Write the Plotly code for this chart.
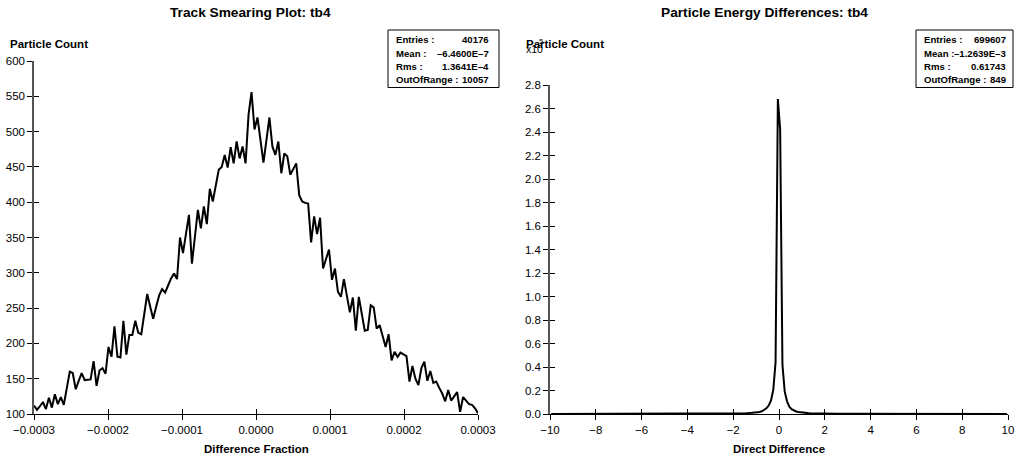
import numpy as np
import plotly.graph_objects as go

W, H = 1016, 460
FONT = "Liberation Sans, Arial, Helvetica, sans-serif"

# ---------------- data: Track Smearing (150 bins over [-0.0003, 0.0003]) -------------
smear_range = (-0.0003, 0.0003)
smear_nbins = 150
smear_counts = [
    112, 106, 111, 117, 107, 123, 109, 128, 114, 124,
    113, 137, 160, 158, 135, 147, 158, 148, 148, 149,
    175, 140, 162, 165, 157, 195, 181, 224, 181, 180,
    232, 184, 212, 212, 232, 215, 213, 241, 270, 252,
    235, 252, 268, 277, 272, 282, 292, 299, 291, 350,
    328, 355, 382, 313, 351, 389, 363, 394, 369, 419,
    401, 423, 446, 450, 467, 449, 478, 455, 486, 462,
    479, 455, 524, 556, 503, 520, 488, 456, 488, 520,
    479, 467, 486, 441, 469, 465, 439, 447, 455, 410,
    401, 399, 398, 343, 380, 355, 378, 306, 320, 333,
    290, 306, 273, 266, 291, 267, 244, 265, 218, 266,
    242, 218, 219, 254, 251, 221, 226, 210, 195, 213,
    176, 188, 181, 187, 185, 182, 146, 168, 150, 141,
    165, 174, 147, 161, 144, 146, 137, 129, 118, 134,
    119, 125, 131, 103, 124, 119, 114, 113, 108, 101,
]
smear_xticks = [-0.0003, -0.0002, -0.0001, 0.0, 0.0001, 0.0002, 0.0003]
smear_yticks = [100, 150, 200, 250, 300, 350, 400, 450, 500, 550, 600]
smear_stats = [("Entries :", "40176"), ("Mean :", "–6.4600E–7"),
               ("Rms :", "1.3641E–4"), ("OutOfRange :", "10057")]

# ---------------- data: Particle Energy Differences (200 bins over [-10, 10]) -------
energy_range = (-10.0, 10.0)
energy_nbins = 200
energy_tail_left = [
    37, 36, 39, 38, 40, 39, 42, 41, 43, 44,
    45, 44, 47, 48, 47, 50, 51, 50, 53, 55,
    56, 55, 58, 60, 59, 62, 64, 63, 67, 69,
    70, 72, 71, 75, 78, 77, 81, 84, 83, 88,
    90, 89, 94, 97, 96, 101, 105, 104, 110, 114,
    117, 116, 122, 127, 126, 133, 139, 138, 146, 152,
    156, 155, 164, 172, 171, 181, 190, 189, 200, 212,
    218, 217, 230, 245, 244, 260, 280, 279, 300, 340,
]
energy_core_left = [370, 410, 450, 500, 560, 630, 720, 830, 970, 1150,
                    1400, 1750, 2300, 3200, 4800, 7200, 11600, 20500, 44000, 268000]
energy_core_right = [242000, 42000, 19000, 10800, 6300, 4200, 3000, 2150, 1650, 1320,
                     1080, 900, 770, 670, 590, 525, 470, 425, 385, 350]
energy_tail_right = [
    318, 290, 270, 262, 248, 231, 222, 214, 203, 196,
    188, 181, 172, 168, 160, 152, 149, 142, 137, 133,
    129, 124, 119, 117, 112, 108, 106, 102, 99, 96,
    93, 90, 88, 86, 83, 80, 79, 76, 74, 73,
    71, 69, 66, 65, 63, 62, 60, 59, 57, 56,
    55, 53, 52, 51, 49, 48, 47, 46, 45, 44,
    43, 42, 41, 40, 40, 39, 38, 37, 36, 36,
    35, 34, 34, 33, 32, 32, 31, 30, 30, 29,
]
energy_counts = energy_tail_left + energy_core_left + energy_core_right + energy_tail_right
energy_xticks = [-10, -8, -6, -4, -2, 0, 2, 4, 6, 8, 10]
energy_yticks = [0, 20000, 40000, 60000, 80000, 100000, 120000, 140000,
                 160000, 180000, 200000, 220000, 240000, 260000, 280000]
energy_ytext = ["0.0", "0.2", "0.4", "0.6", "0.8", "1.0", "1.2", "1.4",
                "1.6", "1.8", "2.0", "2.2", "2.4", "2.6", "2.8"]
energy_stats = [("Entries :", "699607"), ("Mean :", "–1.2639E–3"),
                ("Rms :", "0.61743"), ("OutOfRange :", "849")]

# bin positions
smear_x = np.linspace(smear_range[0], smear_range[1], smear_nbins)
ew = (energy_range[1] - energy_range[0]) / energy_nbins
energy_x = energy_range[0] + ew * (np.arange(energy_nbins) + 0.5)


def px(p):
    return p / W


def py(p):
    return 1 - p / H


fig = go.Figure()
fig.add_trace(go.Scatter(x=smear_x, y=smear_counts, mode="lines",
                         line=dict(color="black", width=2), xaxis="x", yaxis="y",
                         hoverinfo="skip"))
fig.add_trace(go.Scatter(x=energy_x, y=energy_counts, mode="lines",
                         line=dict(color="black", width=2), xaxis="x2", yaxis="y2",
                         hoverinfo="skip"))
# helper traces (no visible marks) so that overlay axes carrying the inner half of the ticks exist
fig.add_trace(go.Scatter(x=[None], y=[None], mode="lines", xaxis="x3", yaxis="y3",
                         showlegend=False, hoverinfo="skip"))
fig.add_trace(go.Scatter(x=[None], y=[None], mode="lines", xaxis="x4", yaxis="y4",
                         showlegend=False, hoverinfo="skip"))

tickfont = dict(family=FONT, size=11.5, color="black")
common = dict(showgrid=False, zeroline=False, ticklen=5, tickwidth=1, tickcolor="black",
              automargin=False, fixedrange=True)

dom1x = [px(34), px(478)]
dom1y = [py(414), py(61)]
dom2x = [px(550), px(1008)]
dom2y = [py(414), py(85)]

fig.update_layout(
    width=W, height=H, margin=dict(l=0, r=0, t=0, b=0, pad=0), autosize=False,
    paper_bgcolor="white", plot_bgcolor="white", showlegend=False,
    xaxis=dict(domain=dom1x, range=list(smear_range), anchor="y", tickvals=smear_xticks,
               tickformat=".4f", ticks="outside", showline=True, linecolor="black",
               linewidth=1, tickfont=tickfont, **common),
    yaxis=dict(domain=dom1y, range=[100, 600], anchor="x", tickvals=smear_yticks,
               ticks="outside", showline=True, linecolor="#555", linewidth=1.5,
               tickfont=tickfont, **common),
    xaxis3=dict(overlaying="x", anchor="y3", range=list(smear_range), tickvals=smear_xticks,
                ticks="inside", showticklabels=False, showline=False, **common),
    yaxis3=dict(overlaying="y", anchor="x3", range=[100, 600], tickvals=smear_yticks,
                ticks="inside", showticklabels=False, showline=False, **common),
    xaxis2=dict(domain=dom2x, range=list(energy_range), anchor="y2", tickvals=energy_xticks,
                ticks="outside", showline=True, linecolor="black", linewidth=1,
                tickfont=tickfont, **common),
    yaxis2=dict(domain=dom2y, range=[0, 280000], anchor="x2", tickvals=energy_yticks,
                ticktext=energy_ytext, ticks="outside", showline=True, linecolor="#555",
                linewidth=1.5, tickfont=tickfont, **common),
    xaxis4=dict(overlaying="x2", anchor="y4", range=list(energy_range), tickvals=energy_xticks,
                ticks="inside", showticklabels=False, showline=False, **common),
    yaxis4=dict(overlaying="y2", anchor="x4", range=[0, 280000], tickvals=energy_yticks,
                ticks="inside", showticklabels=False, showline=False, **common),
)

ann = []


def text(x, y, s, size, bold=False, xanchor="center"):
    ann.append(dict(x=px(x), y=py(y), xref="paper", yref="paper", showarrow=False,
                    text=f"<b>{s}</b>" if bold else s, xanchor=xanchor, yanchor="middle",
                    borderpad=0, font=dict(family=FONT, size=size, color="black")))


# titles
text(250, 12.5, "Track Smearing Plot: tb4", 13.7, True)
text(764, 12.5, "Particle Energy Differences: tb4", 13.7, True)
# axis titles
text(9, 44, "Particle Count", 11.5, True, "left")
text(525, 44, "Particle Count", 11.5, True, "left")
text(256, 449, "Difference Fraction", 11.5, True)
text(779, 449, "Direct Difference", 11.5, True)
# exponent label
text(525, 49.5, "x10", 10.5, False, "left")
text(538, 41, "5", 8, False, "left")

# stats boxes
shapes = []
for (x0, x1, lx, rx, stats) in [(388, 499, 395, 489.5, smear_stats),
                                (916, 1013, 922.5, 1006.5, energy_stats)]:
    shapes.append(dict(type="rect", xref="paper", yref="paper", x0=px(x0), x1=px(x1),
                       y0=py(87.5), y1=py(30), line=dict(color="black", width=1),
                       fillcolor="white"))
    for i, (lab, val) in enumerate(stats):
        yy = 39.7 + 13.35 * i
        text(lx, yy, lab, 9.6, True, "left")
        text(rx, yy, val, 9.6, True, "right")

fig.update_layout(annotations=ann, shapes=shapes)
fig.write_html("out.html", config={"displayModeBar": False})
